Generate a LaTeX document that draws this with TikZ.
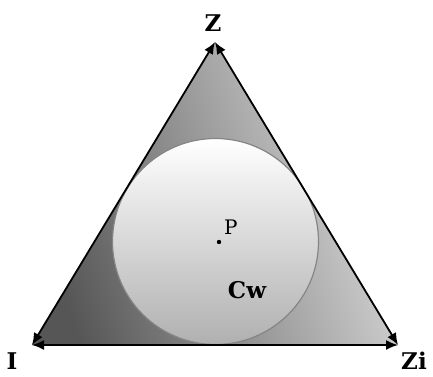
\documentclass[tikz,border=0pt]{standalone}
\usepackage{fontspec}
\setmainfont{DejaVu Serif}
\usepackage{xcolor}
\usepackage{tikz}
\usetikzlibrary{arrows.meta,positioning,calc}
\definecolor{edgegray}{HTML}{858585}
\definecolor{darkfill}{HTML}{565656}
\definecolor{lightfill}{HTML}{DCDCDC}
\definecolor{circtop}{HTML}{FFFFFF}
\definecolor{circbot}{HTML}{B0B0B0}
\tikzset{
  side/.style={{Latex[length=12pt,width=10pt]}-{Latex[length=12pt,width=10pt]},line width=1.8pt},
  vlbl/.style={font=\fontsize{23}{25}\selectfont\bfseries,inner sep=0pt},
  plbl/.style={font=\fontsize{20}{22}\selectfont,inner sep=0pt},
}

\begin{document}
\begin{tikzpicture}[x=1pt,y=1pt]
\useasboundingbox (0,0) rectangle (433,376);

% VERTICES
\coordinate (Zv) at (215,334);
\coordinate (Iv) at (32,31);
\coordinate (Ziv) at (398,31);

% FILLED TRIANGLE
\shade[left color=darkfill,right color=lightfill,shading angle=108]
  (Zv) -- (Iv) -- (Ziv) -- cycle;

% INSCRIBED CIRCLE
\shade[top color=circtop,bottom color=circbot,draw=edgegray,line width=1.2pt]
  (215.5,134.5) circle (103);

% SIDES
\draw[side] (Zv) -- (Iv);
\draw[side] (Iv) -- (Ziv);
\draw[side] (Ziv) -- (Zv);

% LABELS
\node[vlbl] (Zl) at (213,353) {Z};
\node[vlbl] (Il) at (12,15) {I};
\node[vlbl] (Zil) at (414,15) {Zi};
\fill (219,134) circle (2.2) coordinate (Pt);
\node[plbl,above right=7pt and 5pt of Pt] (Pl) {P};
\node[vlbl] (Cw) at (247,86) {Cw};
\end{tikzpicture}
\end{document}
